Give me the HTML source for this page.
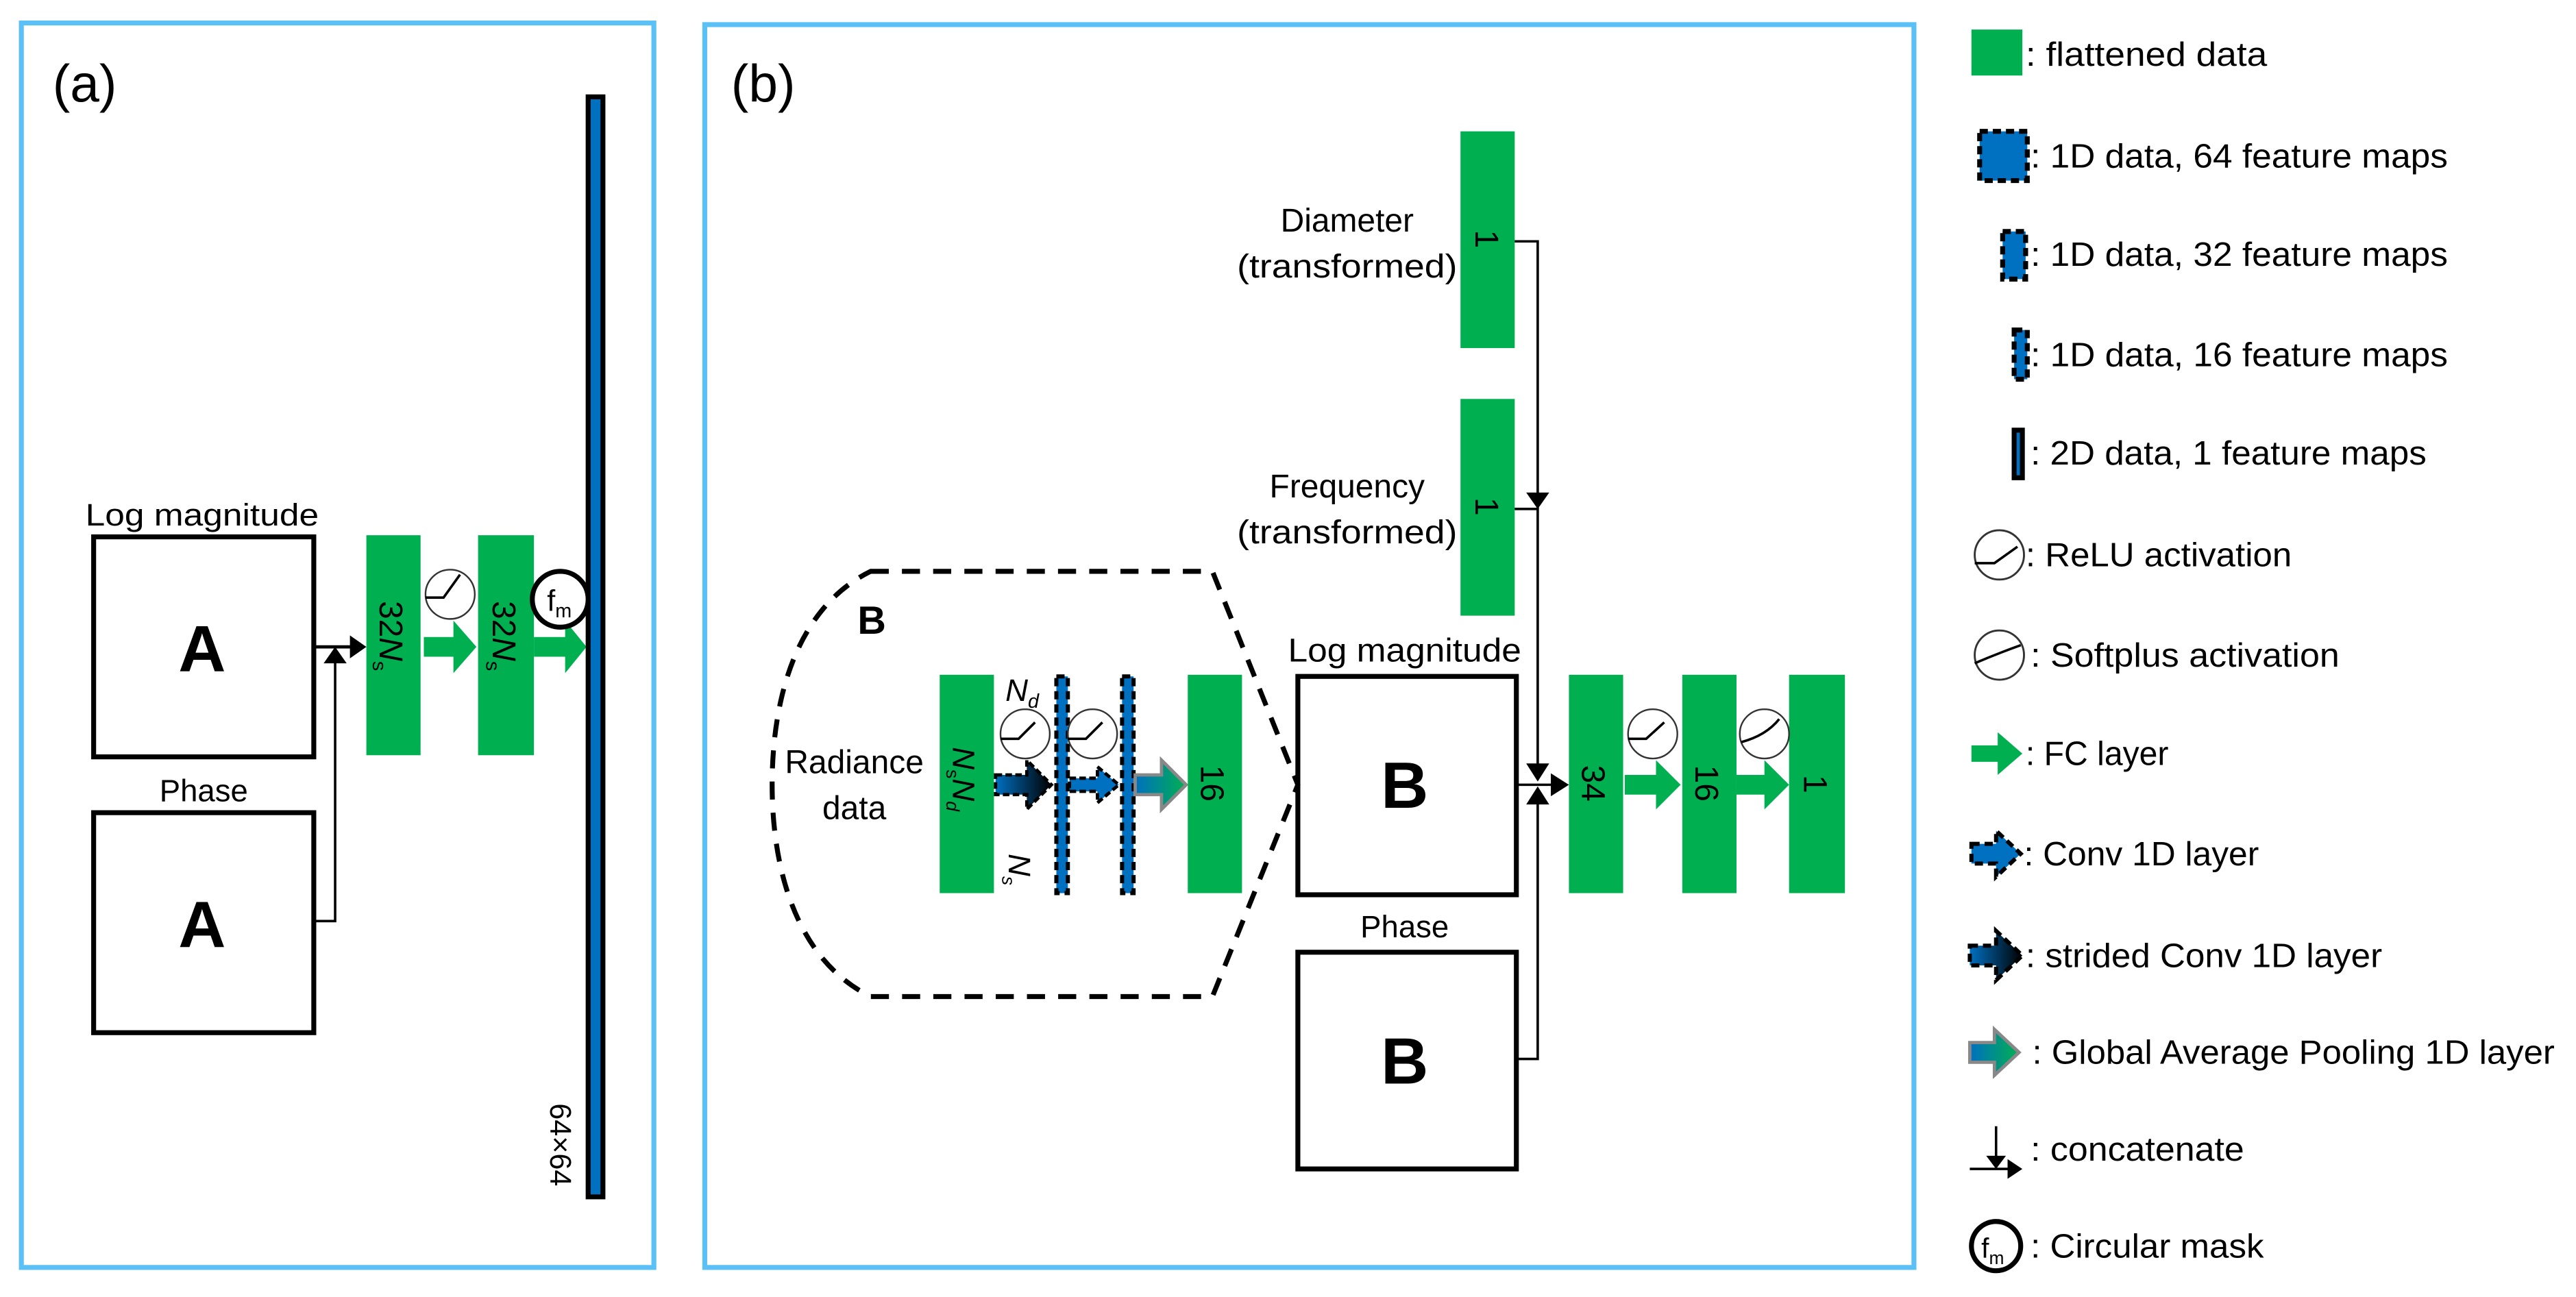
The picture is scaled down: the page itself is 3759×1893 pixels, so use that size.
<!DOCTYPE html>
<html><head><meta charset="utf-8"><style>
html,body{margin:0;padding:0;background:#fff;}
svg{display:block;}
text{font-family:"Liberation Sans",sans-serif;fill:#000;}
</style></head><body>
<svg width="3759" height="1893" viewBox="0 0 1568 790" preserveAspectRatio="none" xmlns="http://www.w3.org/2000/svg">
<defs>
<linearGradient id="sc" x1="0" x2="1"><stop offset="0" stop-color="#0070c0"/><stop offset="1" stop-color="#000"/></linearGradient>
<linearGradient id="gp" x1="0" x2="1"><stop offset="0" stop-color="#0070c0"/><stop offset="1" stop-color="#00b050"/></linearGradient>
</defs>
<!-- panels -->
<rect x="13" y="14" width="385" height="758" fill="none" stroke="#5bc0f5" stroke-width="3"/>
<rect x="429" y="15" width="736" height="757" fill="none" stroke="#5bc0f5" stroke-width="3"/>
<text x="32" y="62" font-size="32">(a)</text>
<text x="445" y="62" font-size="32">(b)</text>

<!-- Panel a -->
<text x="123" y="320" font-size="19" text-anchor="middle" textLength="142" lengthAdjust="spacingAndGlyphs">Log magnitude</text>
<rect x="57" y="327" width="134" height="134" fill="#fff" stroke="#000" stroke-width="3"/>
<text x="123" y="409" font-size="40" font-weight="bold" text-anchor="middle">A</text>
<text x="124" y="488" font-size="19" text-anchor="middle">Phase</text>
<rect x="57" y="495" width="134" height="134" fill="#fff" stroke="#000" stroke-width="3"/>
<text x="123" y="577" font-size="40" font-weight="bold" text-anchor="middle">A</text>
<line x1="191" y1="394" x2="214" y2="394" stroke="#000" stroke-width="2"/>
<polygon points="213,387 223,394 213,401" fill="#000"/>
<polyline points="191,561 204,561 204,402" fill="none" stroke="#000" stroke-width="1.5"/>
<polygon points="197,404 204,394 211,404" fill="#000"/>
<rect x="223" y="326" width="33" height="134" fill="#00b050"/>
<rect x="291" y="326" width="34" height="134" fill="#00b050"/>
<text transform="translate(231,366) rotate(90)" font-size="20">32<tspan font-style="italic">N</tspan><tspan font-size="12" dy="4">s</tspan></text>
<text transform="translate(300,366) rotate(90)" font-size="20">32<tspan font-style="italic">N</tspan><tspan font-size="12" dy="4">s</tspan></text>
<circle cx="274" cy="362" r="15" fill="#fff" stroke="#333" stroke-width="1"/>
<polyline points="259,364 270,364 280,350" fill="none" stroke="#000" stroke-width="1.5"/>
<polygon points="258,388 276,388 276,378 290,394 276,410 276,400 258,400" fill="#00b050"/>
<polygon points="325,388 344,388 344,378 357,394 344,410 344,400 325,400" fill="#00b050"/>
<rect x="358" y="59" width="9" height="670" fill="#0070c0" stroke="#000" stroke-width="3"/>
<circle cx="341" cy="365" r="17" fill="#fff" stroke="#000" stroke-width="3"/>
<text x="333" y="372" font-size="18">f<tspan font-size="12" dy="4">m</tspan></text>
<text transform="translate(335,672) rotate(90)" font-size="18">64×64</text>

<!-- Panel b top inputs -->
<text x="820" y="141" font-size="20" text-anchor="middle">Diameter</text>
<text x="820" y="169" font-size="20" text-anchor="middle" textLength="134" lengthAdjust="spacingAndGlyphs">(transformed)</text>
<rect x="889" y="80" width="33" height="132" fill="#00b050"/>
<text transform="translate(898,140) rotate(90)" font-size="20">1</text>
<text x="820" y="303" font-size="20" text-anchor="middle">Frequency</text>
<text x="820" y="331" font-size="20" text-anchor="middle" textLength="134" lengthAdjust="spacingAndGlyphs">(transformed)</text>
<rect x="889" y="243" width="33" height="132" fill="#00b050"/>
<text transform="translate(898,303) rotate(90)" font-size="20">1</text>
<polyline points="922,147 936,147 936,470" fill="none" stroke="#000" stroke-width="1.5"/>
<line x1="922" y1="310" x2="936" y2="310" stroke="#000" stroke-width="1.5"/>
<polygon points="929,300 943,300 936,310" fill="#000"/>
<polygon points="929,465 943,465 936,476" fill="#000"/>

<!-- B boxes -->
<text x="855" y="403" font-size="20" text-anchor="middle" textLength="142" lengthAdjust="spacingAndGlyphs">Log magnitude</text>
<rect x="790" y="412" width="133" height="133" fill="#fff" stroke="#000" stroke-width="3"/>
<text x="855" y="492" font-size="40" font-weight="bold" text-anchor="middle">B</text>
<text x="855" y="571" font-size="19" text-anchor="middle">Phase</text>
<rect x="790" y="580" width="133" height="132" fill="#fff" stroke="#000" stroke-width="3"/>
<text x="855" y="660" font-size="40" font-weight="bold" text-anchor="middle">B</text>
<line x1="923" y1="478" x2="946" y2="478" stroke="#000" stroke-width="1.5"/>
<polygon points="944,471 955,478 944,485" fill="#000"/>
<polyline points="923,645 936,645 936,486" fill="none" stroke="#000" stroke-width="1.5"/>
<polygon points="929,490 943,490 936,479" fill="#000"/>

<!-- output chain -->
<rect x="955" y="411" width="33" height="133" fill="#00b050"/>
<rect x="1024" y="411" width="33" height="133" fill="#00b050"/>
<rect x="1089" y="411" width="34" height="133" fill="#00b050"/>
<text transform="translate(963,466) rotate(90)" font-size="20">34</text>
<text transform="translate(1032,466) rotate(90)" font-size="20">16</text>
<text transform="translate(1098,472) rotate(90)" font-size="20">1</text>
<circle cx="1006" cy="447" r="15" fill="#fff" stroke="#333" stroke-width="1"/>
<polyline points="991,450 1002,450 1013,440" fill="none" stroke="#000" stroke-width="1.5"/>
<circle cx="1074" cy="447" r="15" fill="#fff" stroke="#333" stroke-width="1"/>
<path d="M1060,452 Q1075,448 1083,438" fill="none" stroke="#000" stroke-width="1.5"/>
<polygon points="989,472 1008,472 1008,463 1023,478 1008,493 1008,484 989,484" fill="#00b050"/>
<polygon points="1057,472 1074,472 1074,463 1089,478 1074,493 1074,484 1057,484" fill="#00b050"/>

<!-- dashed B hexagon -->
<path d="M530,348 L738,348 L790,478 L738,607 L530,607 C485,585 470,530 470,478 C470,425 485,370 530,348 Z" fill="none" stroke="#000" stroke-width="3" stroke-dasharray="11,8"/>
<text x="522" y="386" font-size="24" font-weight="bold">B</text>
<text x="520" y="471" font-size="20" text-anchor="middle">Radiance</text>
<text x="520" y="499" font-size="20" text-anchor="middle">data</text>
<rect x="572" y="411" width="33" height="133" fill="#00b050"/>
<text transform="translate(580,455) rotate(90)" font-size="19"><tspan font-style="italic">N</tspan><tspan font-size="11" dy="4">s</tspan><tspan font-style="italic" dy="-4">N</tspan><tspan font-size="11" dy="4" font-style="italic">d</tspan></text>
<rect x="643" y="412" width="7" height="132" fill="#0070c0" stroke="#000" stroke-width="2.5" stroke-dasharray="5,3"/>
<rect x="683" y="412" width="7" height="132" fill="#0070c0" stroke="#000" stroke-width="2.5" stroke-dasharray="5,3"/>
<text x="612" y="427" font-size="19" font-style="italic">N<tspan font-size="12" dy="4">d</tspan></text>
<text transform="translate(614,520) rotate(90)" font-size="19" font-style="italic">N<tspan font-size="11" dy="4">s</tspan></text>
<circle cx="624" cy="447" r="15" fill="#fff" stroke="#333" stroke-width="1"/>
<polyline points="609,450 620,450 630,440" fill="none" stroke="#000" stroke-width="1.5"/>
<circle cx="665" cy="447" r="15" fill="#fff" stroke="#333" stroke-width="1"/>
<polyline points="650,450 661,450 671,440" fill="none" stroke="#000" stroke-width="1.5"/>
<polygon points="606,472 625,472 625,463 640,478 625,493 625,484 606,484" fill="url(#sc)" stroke="#000" stroke-width="2" stroke-dasharray="4,2"/>
<polygon points="651,474 668,474 668,467 681,478 668,489 668,482 651,482" fill="#0070c0" stroke="#000" stroke-width="2" stroke-dasharray="4,2"/>
<polygon points="691,472 707,472 707,463 722,478 707,493 707,484 691,484" fill="url(#gp)" stroke="#888" stroke-width="2"/>
<rect x="723" y="411" width="33" height="133" fill="#00b050"/>
<text transform="translate(731,466) rotate(90)" font-size="20">16</text>

<!-- Legend -->
<g font-size="20.5">
<rect x="1200" y="18" width="31" height="28" fill="#00b050"/>
<text x="1233" y="40" textLength="147" lengthAdjust="spacingAndGlyphs">: flattened data</text>
<rect x="1205" y="80" width="29" height="30" fill="#0070c0" stroke="#000" stroke-width="3" stroke-dasharray="5,3"/>
<text x="1236" y="102" textLength="254" lengthAdjust="spacingAndGlyphs">: 1D data, 64 feature maps</text>
<rect x="1219" y="141" width="14" height="29" fill="#0070c0" stroke="#000" stroke-width="3" stroke-dasharray="5,3"/>
<text x="1236" y="162" textLength="254" lengthAdjust="spacingAndGlyphs">: 1D data, 32 feature maps</text>
<rect x="1226" y="201" width="8" height="30" fill="#0070c0" stroke="#000" stroke-width="3" stroke-dasharray="5,3"/>
<text x="1236" y="223" textLength="254" lengthAdjust="spacingAndGlyphs">: 1D data, 16 feature maps</text>
<rect x="1226" y="262" width="5" height="29" fill="#0070c0" stroke="#000" stroke-width="3"/>
<text x="1236" y="283" textLength="241" lengthAdjust="spacingAndGlyphs">: 2D data, 1 feature maps</text>
<ellipse cx="1217" cy="338" rx="15" ry="15" fill="#fff" stroke="#333" stroke-width="1.2"/>
<polyline points="1202,343 1214,343 1228,333" fill="none" stroke="#000" stroke-width="1.5"/>
<text x="1233" y="345" textLength="162" lengthAdjust="spacingAndGlyphs">: ReLU activation</text>
<ellipse cx="1217" cy="399" rx="15" ry="15" fill="#fff" stroke="#333" stroke-width="1.2"/>
<path d="M1202,404 Q1216,398 1230,393" fill="none" stroke="#000" stroke-width="1.5"/>
<text x="1236" y="406" textLength="188" lengthAdjust="spacingAndGlyphs">: Softplus activation</text>
<polygon points="1200,454 1216,454 1216,446 1231,459 1216,472 1216,464 1200,464" fill="#00b050"/>
<text x="1233" y="466" textLength="87" lengthAdjust="spacingAndGlyphs">: FC layer</text>
<polygon points="1200,514 1215,514 1215,506 1230,520 1215,534 1215,526 1200,526" fill="#0070c0" stroke="#000" stroke-width="2.5" stroke-dasharray="5,3"/>
<text x="1232" y="527" textLength="143" lengthAdjust="spacingAndGlyphs">: Conv 1D layer</text>
<polygon points="1199,576 1215,576 1215,567 1231,582 1215,597 1215,588 1199,588" fill="url(#sc)" stroke="#000" stroke-width="2.5" stroke-dasharray="5,3"/>
<text x="1233" y="589" textLength="217" lengthAdjust="spacingAndGlyphs">: strided Conv 1D layer</text>
<polygon points="1199,635 1214,635 1214,627 1229,641 1214,655 1214,647 1199,647" fill="url(#gp)" stroke="#888" stroke-width="2"/>
<text x="1237" y="648" textLength="318" lengthAdjust="spacingAndGlyphs">: Global Average Pooling 1D layer</text>
<line x1="1215" y1="686" x2="1215" y2="710" stroke="#000" stroke-width="1.5"/>
<polygon points="1209,704 1221,704 1215,712" fill="#000"/>
<line x1="1199" y1="712" x2="1224" y2="712" stroke="#000" stroke-width="1.5"/>
<polygon points="1222,706 1231,712 1222,718" fill="#000"/>
<text x="1236" y="707" textLength="130" lengthAdjust="spacingAndGlyphs">: concatenate</text>
<circle cx="1215" cy="759" r="15" fill="#fff" stroke="#000" stroke-width="3"/>
<text x="1206" y="766" font-size="17">f<tspan font-size="11" dy="4">m</tspan></text>
<text x="1236" y="766" textLength="142" lengthAdjust="spacingAndGlyphs">: Circular mask</text>
</g>
</svg>
</body></html>
